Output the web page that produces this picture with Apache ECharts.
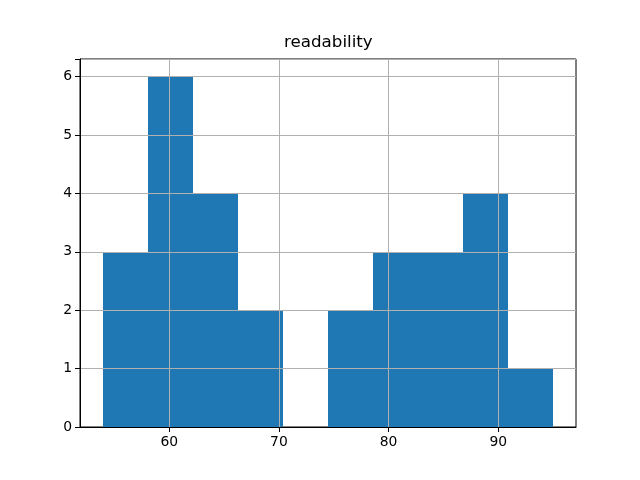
<!DOCTYPE html>
<html><head><meta charset="utf-8">
<script src="https://cdn.jsdelivr.net/npm/echarts@6/dist/echarts.min.js"></script>
<style>html,body{margin:0;padding:0;background:#fff}#c{width:640px;height:480px}</style>
</head><body><div id="c"></div>
<script>
const title = 'readability';
const binStarts = [53.95, 58.05, 62.15, 66.25, 70.36, 74.46, 78.56, 82.66, 86.76, 90.86];
const binEnds   = [58.05, 62.15, 66.25, 70.36, 74.46, 78.56, 82.66, 86.76, 90.86, 94.96];
const counts    = [3, 6, 4, 2, 0, 2, 3, 3, 4, 1];
const xTicks = [60, 70, 80, 90];

const data = counts.map((c, i) => [binStarts[i], binEnds[i], c]);
const chart = echarts.init(document.getElementById('c'), null, {renderer: 'canvas'});
const font = 'DejaVu Sans';
chart.setOption({
  animation: false,
  title: {text: title, left: 284, top: 34, padding: 0,
    textStyle: {fontFamily: font, fontSize: 16.7, fontWeight: 'normal', color: '#000'}},
  grid: {left: 80, right: 64, top: 59, bottom: 53, show: true, borderColor: '#000', borderWidth: 1, backgroundColor: 'transparent'},
  xAxis: {type: 'value', min: 51.86, max: 97.09, z: 5,
    axisLine: {show: true, onZero: false, lineStyle: {color: '#000', width: 1}},
    axisTick: {show: true, length: 5, lineStyle: {color: '#000'}, customValues: xTicks},
    axisLabel: {fontFamily: font, fontSize: 13.9, color: '#000', margin: 8,
      customValues: xTicks},
    splitLine: {show: true, lineStyle: {color: '#b0b0b0', width: 1}}
  },
  yAxis: {type: 'value', min: 0, max: 6.3, interval: 1, z: 5,
    axisLine: {show: true, lineStyle: {color: '#000', width: 1}},
    axisTick: {show: true, length: 5, lineStyle: {color: '#000'}},
    axisLabel: {fontFamily: font, fontSize: 13.9, color: '#000', margin: 8,
      formatter: v => (v <= 6 && Number.isInteger(v)) ? String(v) : ''},
    splitLine: {show: true, lineStyle: {color: '#b0b0b0', width: 1}}
  },
  series: [{
    type: 'custom', z: 2,
    renderItem: function (params, api) {
      if (!api.value(2)) return null;
      const p0 = api.coord([api.value(0), 0]);
      const p1 = api.coord([api.value(1), api.value(2)]);
      const x0 = Math.round(p0[0]), x1 = Math.round(p1[0]);
      const y0 = Math.round(p0[1]), y1 = Math.round(p1[1]);
      return {type: 'rect', shape: {x: x0, y: y1, width: x1 - x0, height: y0 - y1},
        style: {fill: '#1f77b4'}};
    },
    encode: {x: [0, 1], y: 2},
    data: data
  }]
});
</script></body></html>
